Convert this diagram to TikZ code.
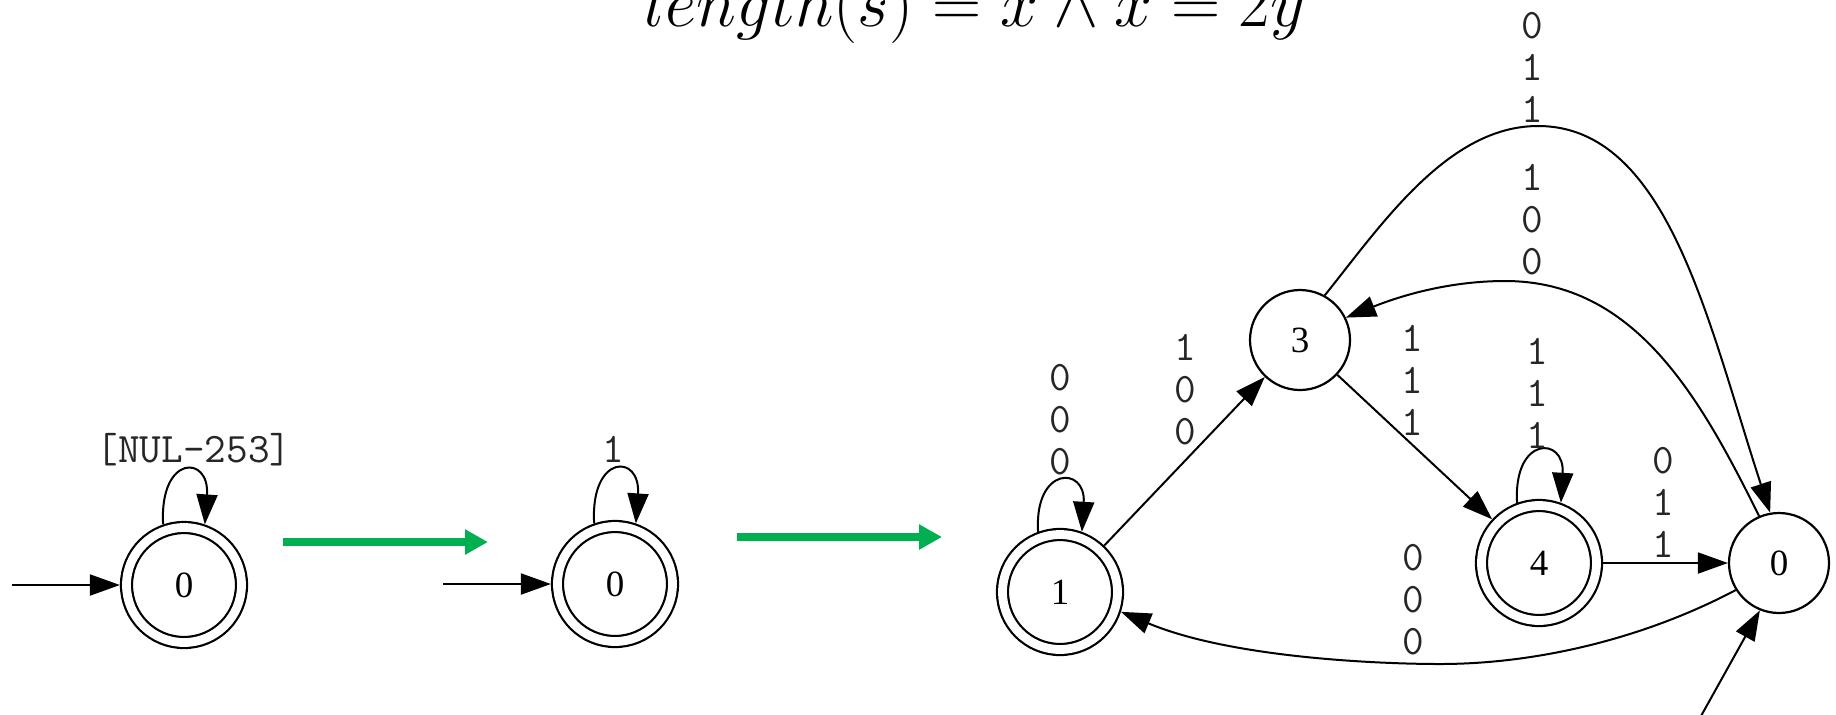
\documentclass[tikz,border=0pt]{standalone}
\usepackage{fontspec}
\setmainfont{Liberation Serif}
\usetikzlibrary{arrows.meta}
\definecolor{arrowgreen}{RGB}{0,176,80}
\begin{document}
\begin{tikzpicture}[x=0.5pt,y=-0.5pt,
  every node/.style={inner sep=0pt},
  st/.style={circle, draw, line width=1.1pt, minimum size=50pt, font=\fontsize{18.5}{20}\selectfont},
  acc/.style={circle, draw, line width=1.1pt, double, double distance=4.4pt, minimum size=57.5pt, outer sep=3.3pt, font=\fontsize{18.5}{20}\selectfont},
  tr/.style={line width=1pt, -{Triangle[length=15pt,width=10.5pt]}},
  lbl/.style={font=\ttfamily\fontsize{21}{21}\selectfont, align=center, text=black!85},
  big/.style={line width=4pt, draw=arrowgreen, -{Triangle[length=11.5pt,width=12pt]}}]
\useasboundingbox (0,0) rectangle (1836,714);
\clip (0,0) rectangle (1836,714);

% title
\node[anchor=base] (title) at (975,26) {\scalebox{1.37}{\Huge $length(s) = x \wedge x = 2y$}};

% first automaton
\node[acc] (A) at (184,585) {0};
\coordinate (iA) at (12,585);
\draw[tr] (iA) -- (A);
\draw[tr] (A.109) .. controls +(-4,-70) and +(5,-70) .. (A.71);
\node[lbl] (lA) at (194,450) {[NUL-253]};

% green arrow 1
\coordinate (g1a) at (283,542);
\coordinate (g1b) at (488,542);
\draw[big] (g1a) -- (g1b);

% second automaton
\node[acc] (B) at (615,584) {0};
\coordinate (iB) at (443,584);
\draw[tr] (iB) -- (B);
\draw[tr] (B.109) .. controls +(-4,-70) and +(5,-70) .. (B.71);
\node[lbl] (lB) at (613,449) {1};

% green arrow 2
\coordinate (g2a) at (737,537);
\coordinate (g2b) at (942,537);
\draw[big] (g2a) -- (g2b);

% third automaton
\node[acc] (N1) at (1060,592) {1};
\node[st] (N3) at (1300,340) {3};
\node[acc] (N4) at (1539,563) {4};
\node[st] (N0) at (1779,563) {0};

\draw[tr] (N1.110) .. controls +(-4,-66) and +(4,-66) .. (N1.70);
\node[lbl] (l11) at (1060,420) {0\\0\\0};

\draw[tr] (N1) -- (N3);
\node[lbl] (l13) at (1185,390) {1\\0\\0};

\draw[tr] (N3) -- (N4);
\node[lbl] (l34) at (1412,380) {1\\1\\1};

\draw[tr] (N4.110) .. controls +(-4,-67) and +(4,-67) .. (N4.70);
\node[lbl] (l44) at (1537,393) {1\\1\\1};

\draw[tr] (N4) -- (N0);
\node[lbl] (l40) at (1663,502) {0\\1\\1};

\draw[tr] (N3.61) .. controls (1382,224) and (1448,126) .. (1538,126)
  .. controls (1668,126) and (1708,323) .. (N0.100);
\node[lbl] (l30) at (1532,67) {0\\1\\1};

\draw[tr] (N0.113) .. controls (1700,397) and (1635,281) .. (1505,281)
  .. controls (1445,281) and (1395,298) .. (N3.26);
\node[lbl] (l03) at (1532,220) {1\\0\\0};

\draw[tr] (N0.212) .. controls (1647,637) and (1540,664) .. (1440,664)
  .. controls (1380,664) and (1231,658) .. (N1.342);
\node[lbl] (l01) at (1413,600) {0\\0\\0};

\coordinate (iC) at (1701,716);
\draw[tr] (iC) -- (N0.248);
\end{tikzpicture}
\end{document}
